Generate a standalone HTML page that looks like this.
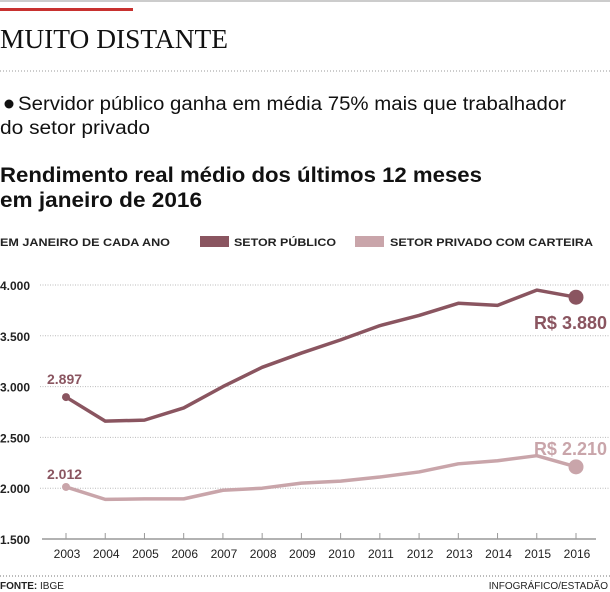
<!DOCTYPE html>
<html><head><meta charset="utf-8"><style>
body{margin:0;background:#fff;}
svg{display:block;font-family:"Liberation Sans Narrow","Liberation Sans",sans-serif;}
</style></head><body>
<svg id="c" width="610" height="592" viewBox="0 0 610 592">
<rect x="0" y="0" width="610" height="2" fill="#ccc"/>
<rect x="0" y="8" width="133" height="3" fill="#c8312f"/>
<text x="0" y="48" font-family="Liberation Serif,serif" font-size="27" fill="#111" textLength="228" lengthAdjust="spacingAndGlyphs">MUITO DISTANTE</text>
<line x1="0" y1="71" x2="610" y2="71" stroke="#999" stroke-dasharray="1,2"/>
<circle cx="9" cy="104" r="4.5" fill="#111"/>
<text x="18" y="110" font-size="19" fill="#111" textLength="548" lengthAdjust="spacingAndGlyphs">Servidor público ganha em média 75% mais que trabalhador</text>
<text x="0" y="134" font-size="19" fill="#111" textLength="150" lengthAdjust="spacingAndGlyphs">do setor privado</text>
<text x="0" y="182" font-size="21" font-weight="bold" fill="#111" textLength="482" lengthAdjust="spacingAndGlyphs">Rendimento real médio dos últimos 12 meses</text>
<text x="0" y="207" font-size="21" font-weight="bold" fill="#111" textLength="202" lengthAdjust="spacingAndGlyphs">em janeiro de 2016</text>
<text x="0" y="246" font-size="11" font-weight="bold" fill="#222" textLength="170" lengthAdjust="spacingAndGlyphs">EM JANEIRO DE CADA ANO</text>
<rect x="200" y="236" width="29" height="11" fill="#8a5560"/>
<text x="234" y="246" font-size="11" font-weight="bold" fill="#222" textLength="102" lengthAdjust="spacingAndGlyphs">SETOR PÚBLICO</text>
<rect x="355" y="236" width="29" height="11" fill="#c9a5aa"/>
<text x="390" y="246" font-size="11" font-weight="bold" fill="#222" textLength="203" lengthAdjust="spacingAndGlyphs">SETOR PRIVADO COM CARTEIRA</text>
<g id="plot"></g>
<line x1="0" y1="576" x2="610" y2="576" stroke="#777" stroke-dasharray="1,2"/>
<text x="0" y="589" font-size="10" fill="#222"><tspan font-weight="bold">FONTE:</tspan> IBGE</text>
<text x="608" y="589" font-size="10" fill="#222" text-anchor="end">INFOGRÁFICO/ESTADÃO</text>
</svg>
<script>
const years=[2003,2004,2005,2006,2007,2008,2009,2010,2011,2012,2013,2014,2015,2016];
const publico=[2897,2660,2670,2790,3000,3190,3330,3460,3600,3700,3820,3800,3950,3880];
const privado=[2012,1890,1895,1895,1980,2000,2050,2070,2110,2160,2240,2270,2320,2210];
const yTicks=[1500,2000,2500,3000,3500,4000];
const yTickLabels=["1.500","2.000","2.500","3.000","3.500","4.000"];
const x=i=>66+(576-66)*i/(years.length-1);
const y=v=>539-(v-1500)*(539-285)/2500;
const ns="http://www.w3.org/2000/svg";
const g=document.getElementById('plot');
function mk(t,a){const e=document.createElementNS(ns,t);for(const k in a)e.setAttribute(k,a[k]);g.appendChild(e);return e;}
yTicks.forEach((v,i)=>{
 if(v>1500){const l=mk('line',{x1:40,x2:610,y1:y(v),y2:y(v),stroke:'#bbb','stroke-dasharray':'1,1.5'});
 
 }
 const t=mk('text',{x:0,y:y(v)+5,'font-size':12,'font-weight':'bold',fill:'#222'});t.textContent=yTickLabels[i];
 
 
});
const ax=mk('line',{x1:42,x2:596,y1:539,y2:539,stroke:'#999','stroke-width':1.5});


years.forEach((yr,i)=>{
 const tk=mk('line',{x1:x(i),x2:x(i),y1:533,y2:539,stroke:'#999'});
 
 
 const t=mk('text',{x:x(i)+1,y:558,'font-size':12,fill:'#222','text-anchor':'middle'});t.textContent=yr;
 
 
});
function series(vals,col,name){
 const p=mk('polyline',{points:vals.map((v,i)=>x(i)+','+y(v)).join(' '),fill:'none',stroke:col,'stroke-width':3.5,'stroke-linejoin':'round'});
 
 
 const c0=mk('circle',{cx:x(0),cy:y(vals[0]),r:4,fill:col});
 
 
 const n=vals.length-1;
 const c1=mk('circle',{cx:x(n),cy:y(vals[n]),r:7.5,fill:col});
 
 
}
series(privado,'#c9a5aa','private');
series(publico,'#8a5560','public');
const fmt=v=>String(v).replace(/\B(?=(\d{3})+$)/,'.');
function lbl(txt,xx,yy,col,size,anchor,name){const t=mk('text',{x:xx,y:yy,'font-size':size,'font-weight':'bold',fill:col,'text-anchor':anchor});t.textContent=txt;
 
 }
lbl(fmt(publico[0]),47,y(publico[0])-13,'#8a5560',14,'start','public-start-label');
lbl(fmt(privado[0]),47,y(privado[0])-8,'#8a5560',14,'start','private-start-label');
lbl('R$ '+fmt(publico[13]),607,y(publico[13])+32,'#8a5560',18,'end','public-end-label');
lbl('R$ '+fmt(privado[13]),607,y(privado[13])-12,'#c9a5aa',18,'end','private-end-label');
</script>
</body></html>
